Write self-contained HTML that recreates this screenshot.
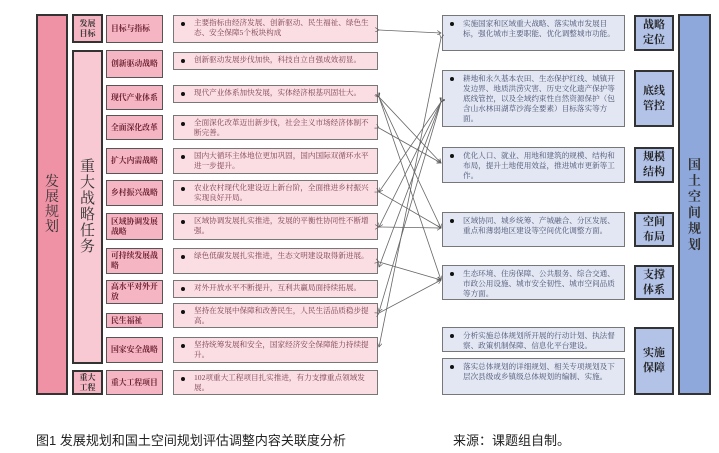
<!DOCTYPE html>
<html><head><meta charset="utf-8"><style>
*{margin:0;padding:0;box-sizing:border-box}
body{width:719px;height:453px;background:#fff;position:relative;overflow:hidden;font-family:"Liberation Serif","Noto Serif CJK SC",serif}
.b{position:absolute}
.big{border:2px solid #333;display:flex;align-items:center;justify-content:center;text-align:center;color:#333}
.lab{background:#f5b5c3;border:1.5px solid #555;font-size:7.8px;line-height:10px;color:#6b2030;padding:2px 4px;font-weight:bold;display:flex;align-items:center}
.cnt{background:#fbdde4;border:1.5px solid #777;font-size:7.6px;line-height:10px;color:#7a4050;padding:2px 6px 2px 20px}
.cnt:before{content:"";position:absolute;left:7px;top:6px;width:4px;height:4px;border-radius:50%;background:#111}
.rc{background:#e2e7f3;border:1.5px solid #777;font-size:7.6px;line-height:10px;color:#4a5070;padding:3px 6px 2px 20px}
.rc:before{content:"";position:absolute;left:7px;top:6px;width:4px;height:4px;border-radius:50%;background:#111}
.rl{background:#b3c3e8;border:2px solid #333;font-size:11px;line-height:15px;color:#222;font-weight:bold;display:flex;align-items:center;justify-content:center;text-align:center}
.cap{position:absolute;top:430px;font-family:"Liberation Sans","Noto Sans CJK SC",sans-serif;font-size:13px;color:#222}
</style></head><body>
<div class="b big" style="left:36px;top:14px;width:32px;height:381px;background:#f092a6;font-size:14px;line-height:15px">发<br>展<br>规<br>划</div>
<div class="b big" style="left:72px;top:14px;width:31px;height:29px;background:#f5b5c3;font-size:8px;line-height:10px;font-weight:bold">发展<br>目标</div>
<div class="b big" style="left:72px;top:50px;width:31px;height:314px;background:#f8c8d3;font-size:15px;line-height:16px">重<br>大<br>战<br>略<br>任<br>务</div>
<div class="b big" style="left:72px;top:370px;width:31px;height:25px;background:#f5b5c3;font-size:8px;line-height:10px;font-weight:bold">重大<br>工程</div>

<div class="b lab" style="left:106px;top:15px;width:57px;height:28px">目标与指标</div>
<div class="b lab" style="left:106px;top:50px;width:57px;height:28px">创新驱动战略</div>
<div class="b lab" style="left:106px;top:85px;width:57px;height:25px">现代产业体系</div>
<div class="b lab" style="left:106px;top:115px;width:57px;height:25px">全面深化改革</div>
<div class="b lab" style="left:106px;top:148px;width:57px;height:26px">扩大内需战略</div>
<div class="b lab" style="left:106px;top:180px;width:57px;height:26px">乡村振兴战略</div>
<div class="b lab" style="left:106px;top:213px;width:57px;height:27px">区域协调发展战略</div>
<div class="b lab" style="left:106px;top:248px;width:57px;height:26px">可持续发展战略</div>
<div class="b lab" style="left:106px;top:280px;width:57px;height:24px">高水平对外开放</div>
<div class="b lab" style="left:106px;top:313px;width:57px;height:15px">民生福祉</div>
<div class="b lab" style="left:106px;top:337px;width:57px;height:26px">国家安全战略</div>
<div class="b lab" style="left:106px;top:370px;width:57px;height:25px">重大工程项目</div>

<div class="b cnt" style="left:173px;top:15px;width:205px;height:28px">主要指标由经济发展、创新驱动、民生福祉、绿色生态、安全保障5个板块构成</div>
<div class="b cnt" style="left:173px;top:52px;width:205px;height:18px">创新驱动发展步伐加快，科技自立自强成效初显。</div>
<div class="b cnt" style="left:173px;top:85px;width:205px;height:18px">现代产业体系加快发展，实体经济根基巩固壮大。</div>
<div class="b cnt" style="left:173px;top:115px;width:205px;height:25px">全面深化改革迈出新步伐，社会主义市场经济体制不断完善。</div>
<div class="b cnt" style="left:173px;top:148px;width:205px;height:26px">国内大循环主体地位更加巩固，国内国际双循环水平进一步提升。</div>
<div class="b cnt" style="left:173px;top:180px;width:205px;height:26px">农业农村现代化建设迈上新台阶，全面推进乡村振兴实现良好开局。</div>
<div class="b cnt" style="left:173px;top:213px;width:205px;height:27px">区域协调发展扎实推进，发展的平衡性协同性不断增强。</div>
<div class="b cnt" style="left:173px;top:248px;width:205px;height:26px">绿色低碳发展扎实推进，生态文明建设取得新进展。</div>
<div class="b cnt" style="left:173px;top:280px;width:205px;height:18px">对外开放水平不断提升，互利共赢局面持续拓展。</div>
<div class="b cnt" style="left:173px;top:303px;width:205px;height:25px">坚持在发展中保障和改善民生，人民生活品质稳步提高。</div>
<div class="b cnt" style="left:173px;top:337px;width:205px;height:26px">坚持统筹发展和安全，国家经济安全保障能力持续提升。</div>
<div class="b cnt" style="left:173px;top:370px;width:205px;height:25px">102项重大工程项目扎实推进，有力支撑重点领域发展。</div>

<div class="b rc" style="left:442px;top:15px;width:183px;height:36px">实施国家和区域重大战略、落实城市发展目标，强化城市主要职能、优化调整城市功能。</div>
<div class="b rc" style="left:442px;top:70px;width:183px;height:57px">耕地和永久基本农田、生态保护红线、城镇开发边界、地质洪涝灾害、历史文化遗产保护等底线管控，以及全域约束性自然资源保护（包含山水林田湖草沙海全要素）目标落实等方面。</div>
<div class="b rc" style="left:442px;top:147px;width:183px;height:36px">优化人口、就业、用地和建筑的规模、结构和布局，提升土地使用效益，推进城市更新等工作。</div>
<div class="b rc" style="left:442px;top:212px;width:183px;height:35px">区域协同、城乡统筹、产城融合、分区发展、重点和薄弱地区建设等空间优化调整方面。</div>
<div class="b rc" style="left:442px;top:265px;width:183px;height:35px">生态环境、住房保障、公共服务、综合交通、市政公用设施、城市安全韧性、城市空间品质等方面。</div>
<div class="b rc" style="left:442px;top:327px;width:183px;height:25px">分析实施总体规划所开展的行动计划、执法督察、政策机制保障、信息化平台建设。</div>
<div class="b rc" style="left:442px;top:358px;width:183px;height:37px">落实总体规划的详细规划、相关专项规划及下层次县级或乡镇级总体规划的编制、实施。</div>

<div class="b rl" style="left:634px;top:15px;width:40px;height:36px">战略<br>定位</div>
<div class="b rl" style="left:634px;top:70px;width:40px;height:57px">底线<br>管控</div>
<div class="b rl" style="left:634px;top:147px;width:40px;height:36px">规模<br>结构</div>
<div class="b rl" style="left:634px;top:212px;width:40px;height:35px">空间<br>布局</div>
<div class="b rl" style="left:634px;top:265px;width:40px;height:35px">支撑<br>体系</div>
<div class="b rl" style="left:634px;top:327px;width:40px;height:68px">实施<br>保障</div>
<div class="b big" style="left:678px;top:14px;width:33px;height:381px;background:#8fa8dc;font-size:13px;line-height:16px;font-weight:bold">国<br>土<br>空<br>间<br>规<br>划</div>

<svg class="b" style="left:0;top:0" width="719" height="453">
<defs><marker id="a" markerWidth="6" markerHeight="6" refX="5" refY="3" orient="auto"><path d="M0,0 L5,3 L0,6" fill="none" stroke="#555" stroke-width="0.8"/></marker></defs>
<g stroke="#666" stroke-width="0.8" fill="none" marker-end="url(#a)" marker-start="url(#a)">
<line x1="379" y1="30" x2="441" y2="33"/>
<line x1="441" y1="38" x2="379" y2="347"/>
<line x1="379" y1="97" x2="441" y2="163"/>
<line x1="379" y1="97" x2="441" y2="228"/>
<line x1="379" y1="97" x2="441" y2="280"/>
<line x1="379" y1="128" x2="441" y2="163"/>
<line x1="441" y1="102" x2="379" y2="192"/>
<line x1="441" y1="102" x2="379" y2="227"/>
<line x1="441" y1="102" x2="379" y2="267"/>
<line x1="441" y1="102" x2="379" y2="312"/>
<line x1="379" y1="192" x2="441" y2="228"/>
<line x1="379" y1="227" x2="441" y2="228"/>
<line x1="379" y1="262" x2="441" y2="280"/>
<line x1="379" y1="313" x2="441" y2="280"/>
</g></svg>

<div class="cap" style="left:36px">图1 发展规划和国土空间规划评估调整内容关联度分析</div>
<div class="cap" style="left:453px">来源：课题组自制。</div>
</body></html>
